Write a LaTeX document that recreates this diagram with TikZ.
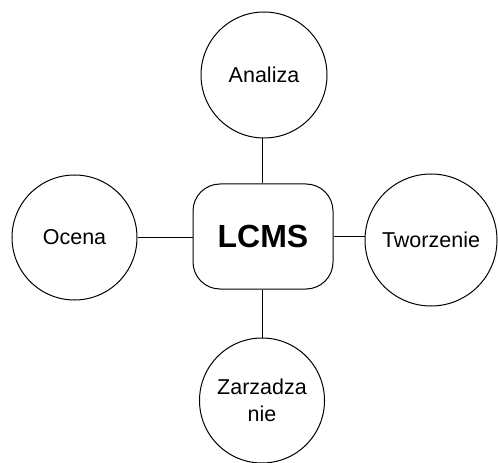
\documentclass[tikz,border=0pt]{standalone}
\usepackage{fontspec}
\setmainfont{Liberation Sans}
\begin{document}
\begin{tikzpicture}[x=1bp,y=-1bp,
  bubble/.style={draw=black,line width=1bp,circle,inner sep=0pt,align=center,
    font=\fontsize{21.5bp}{27bp}\selectfont},
  core/.style={draw=black,line width=1bp,rounded corners=27bp,inner sep=0pt,
    minimum width=140bp,minimum height=105bp,font=\fontsize{32bp}{38bp}\selectfont\bfseries},
  link/.style={line width=1bp,draw=black}]
\useasboundingbox (0,0) rectangle (498,463);
\node[core] (lcms) at (263,236.5) {LCMS};
\node[bubble,minimum size=126bp] (analiza) at (264,75) {Analiza};
\node[bubble,minimum size=125bp] (ocena) at (74.5,237.5) {Ocena};
\node[bubble,minimum size=132bp] (tworz) at (431,240) {Tworzenie};
\node[bubble,minimum size=125bp] (zarz) at (262,400.5) {Zarzadza\\nie};
\draw[link] (lcms.north -| 262,0) -- (analiza.south -| 262,0);
\draw[link] (ocena.east) -- (ocena.east -| lcms.west);
\draw[link] (lcms.east) -- (lcms.east -| tworz.west);
\draw[link] (lcms.south -| 262,0) -- (zarz.north -| 262,0);
\end{tikzpicture}
\end{document}
